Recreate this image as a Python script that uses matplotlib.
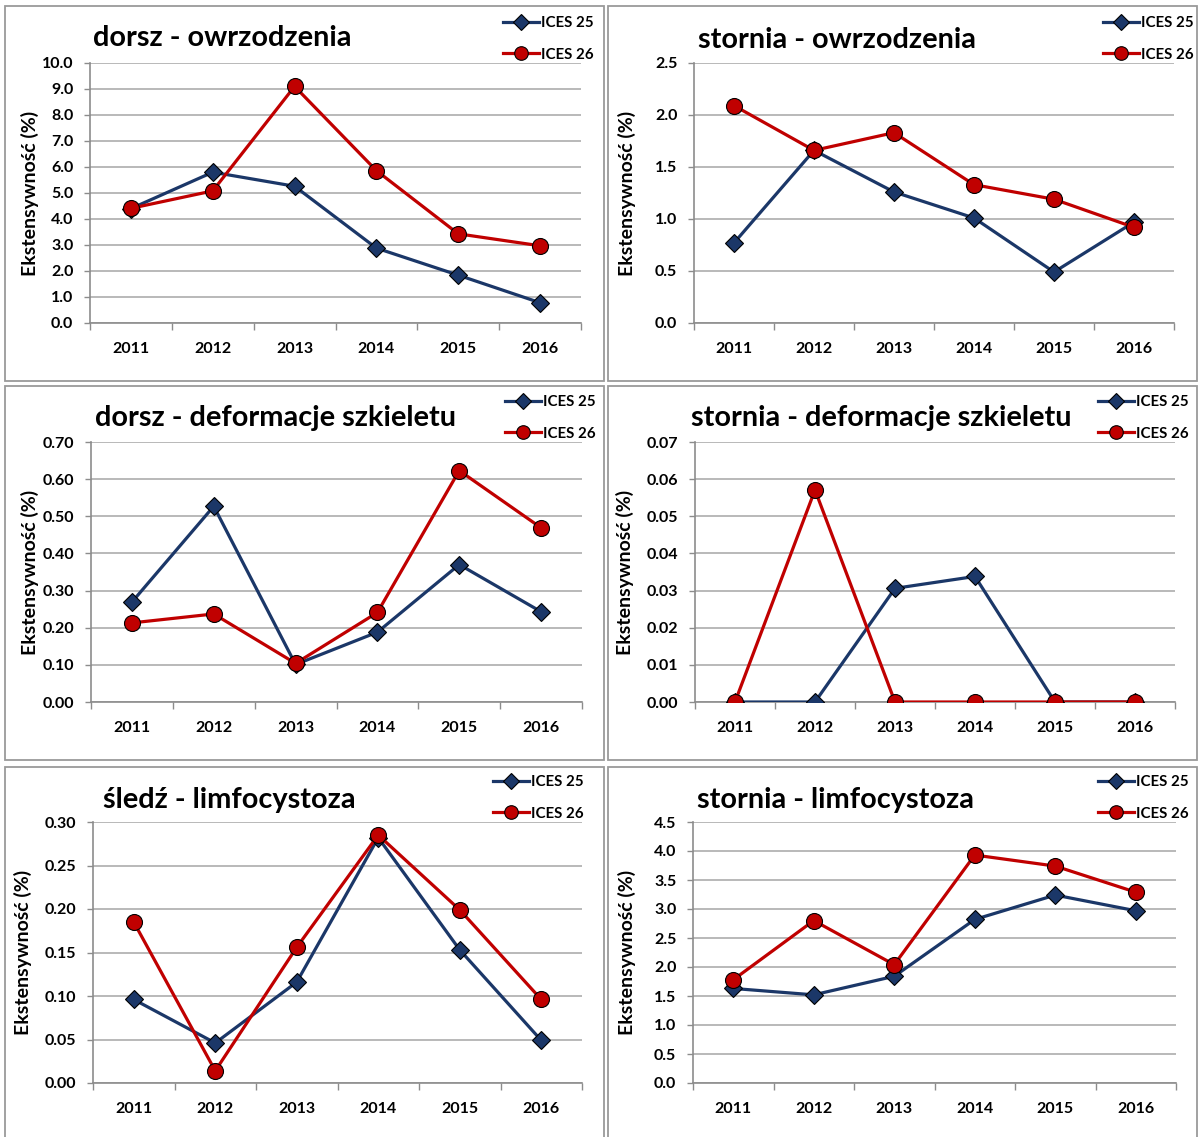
import matplotlib
matplotlib.use("Agg")
import matplotlib.pyplot as plt
from matplotlib.patches import Rectangle

plt.rcParams['font.family'] = ['Lato', 'DejaVu Sans']
plt.rcParams['font.weight'] = 'bold'

years = ["2011", "2012", "2013", "2014", "2015", "2016"]
series_labels = ["ICES 25", "ICES 26"]
ylabel_text = "Ekstensywność (%)"

titles = [
    "dorsz - owrzodzenia",
    "stornia - owrzodzenia",
    "dorsz - deformacje szkieletu",
    "stornia - deformacje szkieletu",
    "śledź - limfocystoza",
    "stornia - limfocystoza",
]

dorsz_owrz_25 = [4.40, 5.80, 5.26, 2.88, 1.84, 0.78]
dorsz_owrz_26 = [4.41, 5.08, 9.10, 5.86, 3.43, 2.97]
stornia_owrz_25 = [0.77, 1.66, 1.26, 1.01, 0.49, 0.97]
stornia_owrz_26 = [2.09, 1.66, 1.83, 1.33, 1.19, 0.92]
dorsz_def_25 = [0.269, 0.527, 0.101, 0.188, 0.370, 0.243]
dorsz_def_26 = [0.213, 0.237, 0.104, 0.241, 0.623, 0.469]
stornia_def_25 = [0.0, 0.0, 0.0306, 0.0338, 0.0, 0.0]
stornia_def_26 = [0.0, 0.0571, 0.0, 0.0, 0.0, 0.0]
sledz_limf_25 = [0.096, 0.046, 0.116, 0.282, 0.153, 0.049]
sledz_limf_26 = [0.185, 0.014, 0.156, 0.285, 0.199, 0.096]
stornia_limf_25 = [1.63, 1.52, 1.84, 2.82, 3.24, 2.97]
stornia_limf_26 = [1.78, 2.80, 2.04, 3.93, 3.74, 3.29]

panel_25 = [dorsz_owrz_25, stornia_owrz_25, dorsz_def_25, stornia_def_25, sledz_limf_25, stornia_limf_25]
panel_26 = [dorsz_owrz_26, stornia_owrz_26, dorsz_def_26, stornia_def_26, sledz_limf_26, stornia_limf_26]

y_max = [10.0, 2.5, 0.70, 0.07, 0.30, 4.5]
y_step = [1.0, 0.5, 0.10, 0.01, 0.05, 0.5]
y_fmt = ["{:.1f}", "{:.1f}", "{:.2f}", "{:.2f}", "{:.2f}", "{:.1f}"]

W, H = 1199, 1137
fig = plt.figure(figsize=(W / 100, H / 100), dpi=100)

# layout in pixels (left, right, top, bottom)
axes_px = [
    (90, 581, 63, 323),
    (694, 1174, 63, 323),
    (91, 582, 442, 702),
    (695, 1175, 442, 702),
    (93, 582, 822, 1083),
    (693, 1176, 822, 1083),
]
box_px = [
    (5, 604, 6, 381),
    (608, 1197, 6, 381),
    (5, 604, 386, 760),
    (608, 1197, 386, 760),
    (5, 604, 767, 1145),
    (608, 1197, 767, 1145),
]
title_px = [(93, 38), (698, 40), (95, 418), (691, 418), (103, 800), (697, 800)]
ylabel_x = [30, 627, 30, 625, 23, 627]
legend_px = [(503, 39), (1103, 39), (505, 418), (1098, 418), (493, 798), (1098, 798)]

navy = "#1B3768"
red = "#C00000"
grid_c = "#A6A6A6"
axis_c = "#8C8C8C"


def fx(px):
    return px / W


def fy(py):
    return 1 - py / H


for (l, r, t, b) in box_px:
    fig.patches.append(Rectangle((fx(l), fy(b)), fx(r - l), (b - t) / H,
                                 transform=fig.transFigure, fill=False,
                                 edgecolor="#9A9A9A", linewidth=1.3))

x = list(range(len(years)))
for i in range(6):
    l, r, t, b = axes_px[i]
    ax = fig.add_axes([fx(l), fy(b), (r - l) / W, (b - t) / H])
    ax.plot(x, panel_25[i], color=navy, lw=2.3, marker="D", ms=9,
            mfc=navy, mec="black", mew=0.8, label=series_labels[0], zorder=3)
    ax.plot(x, panel_26[i], color=red, lw=2.3, marker="o", ms=11.5,
            mfc=red, mec="black", mew=0.8, label=series_labels[1], zorder=4)
    ax.set_xlim(-0.5, len(years) - 0.5)
    ax.set_ylim(0, y_max[i])
    n = int(round(y_max[i] / y_step[i]))
    yt = [k * y_step[i] for k in range(n + 1)]
    ax.set_yticks(yt)
    ax.set_yticklabels([y_fmt[i].format(v) for v in yt], fontsize=11.5, fontweight="bold")
    ax.set_xticks([k - 0.5 for k in range(len(years) + 1)])
    ax.set_xticklabels([])
    ax.set_xticks(x, minor=True)
    ax.set_xticklabels(years, minor=True, fontsize=11.5, fontweight="bold")
    ax.tick_params(axis="x", which="major", length=5, color=axis_c, width=1)
    ax.tick_params(axis="x", which="minor", length=0, pad=14)
    ax.tick_params(axis="y", length=4, color=axis_c, width=1, pad=8)
    for s in ["top", "right"]:
        ax.spines[s].set_visible(False)
    for s in ["left", "bottom"]:
        ax.spines[s].set_color(axis_c)
        ax.spines[s].set_linewidth(1.2)
    ax.grid(axis="y", color=grid_c, lw=1.1)
    ax.set_axisbelow(True)
    ax.patch.set_alpha(0)
    ax.set_ylabel(ylabel_text, fontsize=14, fontweight="bold")
    ax.yaxis.set_label_coords((ylabel_x[i] - l) / (r - l), 0.5)
    ax.yaxis.label.set_va("center")
    tx, ty = title_px[i]
    fig.text(fx(tx), fy(ty), titles[i], fontsize=20.8, fontweight="bold",
             ha="left", va="center")
    lx, ly = legend_px[i]
    ax.legend(loc="center left", bbox_to_anchor=(fx(lx), fy(ly)),
              bbox_transform=fig.transFigure, frameon=False, borderpad=0,
              borderaxespad=0, handlelength=2.4, handletextpad=0.12,
              labelspacing=1.15, markerscale=0.85,
              prop={"size": 10.8, "weight": "bold"})

fig.savefig("out.png", dpi=100)
